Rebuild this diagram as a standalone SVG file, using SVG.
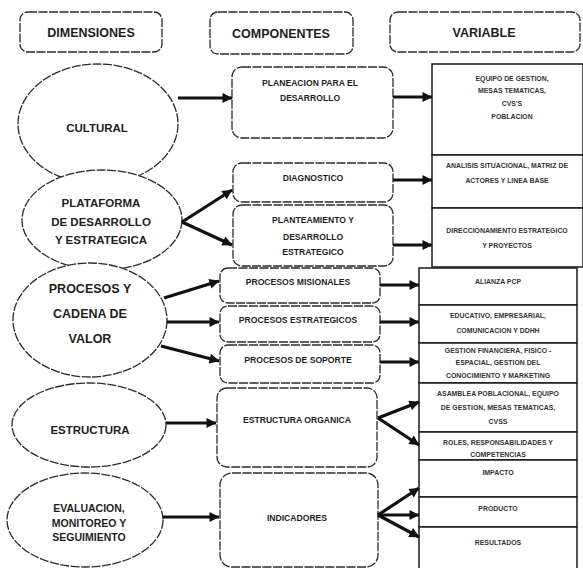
<svg xmlns="http://www.w3.org/2000/svg" width="583" height="568" viewBox="0 0 583 568">
  <style>
    .hdr { fill: #fff; stroke: #2b2b2b; stroke-width: 1.3; stroke-dasharray: 9 1.5; }
    .dim { fill: #fff; stroke: #2b2b2b; stroke-width: 1.3; stroke-dasharray: 9 1.5; }
    .cmp { fill: #fff; stroke: #2b2b2b; stroke-width: 1.3; stroke-dasharray: 9 1.5; }
    .var { fill: #fff; stroke: #1a1a1a; stroke-width: 1.5; }
    text { font-family: "Liberation Sans", Arial, sans-serif; font-weight: bold; fill: #1e1e1e; text-anchor: middle; }
    .th { font-size: 12.5px; }
    .td { font-size: 11.5px; }
    .tc { font-size: 8.6px; }
    .tv { font-size: 6.9px; fill: #333; }
    .arrow { stroke: #111; stroke-width: 3.2; fill: none; marker-end: url(#head); }
  </style>
  <defs>
    <marker id="head" viewBox="0 0 10 10" refX="9.5" refY="5" markerWidth="11" markerHeight="10" markerUnits="userSpaceOnUse" orient="auto">
      <path d="M0,0 L10,5 L0,10 z" fill="#111"/>
    </marker>
  </defs>
  <rect width="583" height="568" fill="#fff"/>

  <!-- column headers -->
  <g id="hdr-dimensiones">
    <rect class="hdr" x="20" y="12" width="142" height="40" rx="8"/>
    <text class="th" x="91" y="37">DIMENSIONES</text>
  </g>
  <g id="hdr-componentes">
    <rect class="hdr" x="210" y="12" width="143" height="42" rx="8"/>
    <text class="th" x="281" y="38">COMPONENTES</text>
  </g>
  <g id="hdr-variable">
    <rect class="hdr" x="390" y="12" width="190" height="40" rx="8"/>
    <text class="th" x="484" y="37">VARIABLE</text>
  </g>

  <!-- dimensions -->
  <g id="dim-cultural">
    <ellipse class="dim" cx="98" cy="124" rx="80" ry="60"/>
    <text class="td" x="97" y="132">CULTURAL</text>
  </g>
  <g id="dim-plataforma">
    <ellipse class="dim" cx="102" cy="220" rx="80" ry="50"/>
    <text class="td" x="101" y="207">PLATAFORMA</text>
    <text class="td" x="101" y="226">DE DESARROLLO</text>
    <text class="td" x="101" y="244">Y ESTRATEGICA</text>
  </g>
  <g id="dim-procesos">
    <ellipse class="dim" cx="90" cy="320" rx="77" ry="57"/>
    <text class="td" x="90" y="293" style="font-size:12.5px">PROCESOS Y</text>
    <text class="td" x="90" y="318" style="font-size:12.5px">CADENA DE</text>
    <text class="td" x="90" y="343" style="font-size:12.5px">VALOR</text>
  </g>
  <g id="dim-estructura">
    <ellipse class="dim" cx="89" cy="425" rx="77" ry="42"/>
    <text class="td" x="90" y="434">ESTRUCTURA</text>
  </g>
  <g id="dim-evaluacion">
    <ellipse class="dim" cx="85" cy="520" rx="78" ry="47"/>
    <text class="td" x="89" y="512" style="font-size:10.5px">EVALUACION,</text>
    <text class="td" x="89" y="527" style="font-size:10.5px">MONITOREO Y</text>
    <text class="td" x="89" y="541" style="font-size:10.5px">SEGUIMIENTO</text>
  </g>

  <!-- components -->
  <g id="cmp-planeacion">
    <rect class="cmp" x="232" y="67" width="161" height="71" rx="10"/>
    <text class="tc" x="310" y="86">PLANEACION PARA EL</text>
    <text class="tc" x="310" y="101">DESARROLLO</text>
  </g>
  <g id="cmp-diagnostico">
    <rect class="cmp" x="233" y="163" width="160" height="39" rx="9"/>
    <text class="tc" x="313" y="181">DIAGNOSTICO</text>
  </g>
  <g id="cmp-planteamiento">
    <rect class="cmp" x="233" y="205" width="160" height="61" rx="9"/>
    <text class="tc" x="313" y="223">PLANTEAMIENTO Y</text>
    <text class="tc" x="313" y="240">DESARROLLO</text>
    <text class="tc" x="313" y="255">ESTRATEGICO</text>
  </g>
  <g id="cmp-misionales">
    <rect class="cmp" x="220" y="268" width="160" height="35" rx="8"/>
    <text class="tc" x="298" y="285">PROCESOS MISIONALES</text>
  </g>
  <g id="cmp-estrategicos">
    <rect class="cmp" x="220" y="306" width="160" height="36" rx="8"/>
    <text class="tc" x="298" y="323">PROCESOS ESTRATEGICOS</text>
  </g>
  <g id="cmp-soporte">
    <rect class="cmp" x="220" y="345" width="160" height="38" rx="8"/>
    <text class="tc" x="298" y="363">PROCESOS DE SOPORTE</text>
  </g>
  <g id="cmp-estructura-organica">
    <rect class="cmp" x="217" y="388" width="160" height="79" rx="10"/>
    <text class="tc" x="297" y="423">ESTRUCTURA ORGANICA</text>
  </g>
  <g id="cmp-indicadores">
    <rect class="cmp" x="220" y="473" width="158" height="94" rx="12"/>
    <text class="tc" x="297" y="521">INDICADORES</text>
  </g>

  <!-- variables -->
  <g id="var-equipo">
    <rect class="var" x="432" y="64" width="151" height="91"/>
    <text class="tv" x="512" y="81">EQUIPO DE GESTION,</text>
    <text class="tv" x="512" y="93">MESAS TEMATICAS,</text>
    <text class="tv" x="512" y="106">CVS'S</text>
    <text class="tv" x="512" y="119">POBLACION</text>
  </g>
  <g id="var-analisis">
    <rect class="var" x="432" y="155" width="151" height="53"/>
    <text class="tv" x="507" y="168">ANALISIS SITUACIONAL, MATRIZ DE</text>
    <text class="tv" x="507" y="183">ACTORES Y LINEA BASE</text>
  </g>
  <g id="var-direccionamiento">
    <rect class="var" x="432" y="208" width="151" height="59"/>
    <text class="tv" x="507" y="233">DIRECCIONAMIENTO ESTRATEGICO</text>
    <text class="tv" x="507" y="248">Y PROYECTOS</text>
  </g>
  <g id="var-alianza">
    <rect class="var" x="419" y="268" width="158" height="37"/>
    <text class="tv" x="498" y="284">ALIANZA PCP</text>
  </g>
  <g id="var-educativo">
    <rect class="var" x="419" y="305" width="158" height="38"/>
    <text class="tv" x="498" y="318">EDUCATIVO, EMPRESARIAL,</text>
    <text class="tv" x="498" y="333">COMUNICACION Y DDHH</text>
  </g>
  <g id="var-gestion">
    <rect class="var" x="419" y="343" width="158" height="40"/>
    <text class="tv" x="498" y="353">GESTION FINANCIERA, FISICO -</text>
    <text class="tv" x="498" y="365">ESPACIAL, GESTION DEL</text>
    <text class="tv" x="498" y="378">CONOCIMIENTO Y MARKETING</text>
  </g>
  <g id="var-asamblea">
    <rect class="var" x="419" y="383" width="158" height="49"/>
    <text class="tv" x="498" y="396">ASAMBLEA POBLACIONAL, EQUIPO</text>
    <text class="tv" x="498" y="410">DE GESTION, MESAS TEMATICAS,</text>
    <text class="tv" x="498" y="424">CVSS</text>
  </g>
  <g id="var-roles">
    <rect class="var" x="419" y="432" width="158" height="28"/>
    <text class="tv" x="498" y="445">ROLES, RESPONSABILIDADES Y</text>
    <text class="tv" x="498" y="457">COMPETENCIAS</text>
  </g>
  <g id="var-impacto">
    <rect class="var" x="419" y="460" width="158" height="37"/>
    <text class="tv" x="498" y="475">IMPACTO</text>
  </g>
  <g id="var-producto">
    <rect class="var" x="419" y="497" width="158" height="30"/>
    <text class="tv" x="498" y="511">PRODUCTO</text>
  </g>
  <g id="var-resultados">
    <rect class="var" x="419" y="527" width="158" height="43"/>
    <text class="tv" x="498" y="545">RESULTADOS</text>
  </g>

  <!-- connectors -->
  <g id="connectors">
    <line class="arrow" x1="178" y1="98" x2="232" y2="98"/>
    <line class="arrow" x1="182" y1="222" x2="232" y2="190"/>
    <line class="arrow" x1="182" y1="222" x2="232" y2="245"/>
    <line class="arrow" x1="164" y1="298" x2="219" y2="281"/>
    <line class="arrow" x1="167" y1="322" x2="219" y2="322"/>
    <line class="arrow" x1="161" y1="346" x2="219" y2="361"/>
    <line class="arrow" x1="166" y1="423" x2="216" y2="423"/>
    <line class="arrow" x1="163" y1="517" x2="219" y2="517"/>

    <line class="arrow" x1="393" y1="97" x2="432" y2="97"/>
    <line class="arrow" x1="393" y1="180" x2="432" y2="180"/>
    <line class="arrow" x1="393" y1="245" x2="432" y2="245"/>
    <line class="arrow" x1="380" y1="285" x2="419" y2="285"/>
    <line class="arrow" x1="380" y1="322" x2="419" y2="322"/>
    <line class="arrow" x1="380" y1="362" x2="419" y2="362"/>
    <line class="arrow" x1="378" y1="418" x2="419" y2="402"/>
    <line class="arrow" x1="378" y1="418" x2="419" y2="445"/>
    <line class="arrow" x1="378" y1="515" x2="419" y2="488"/>
    <line class="arrow" x1="378" y1="515" x2="419" y2="515"/>
    <line class="arrow" x1="378" y1="515" x2="419" y2="537"/>
  </g>
</svg>
